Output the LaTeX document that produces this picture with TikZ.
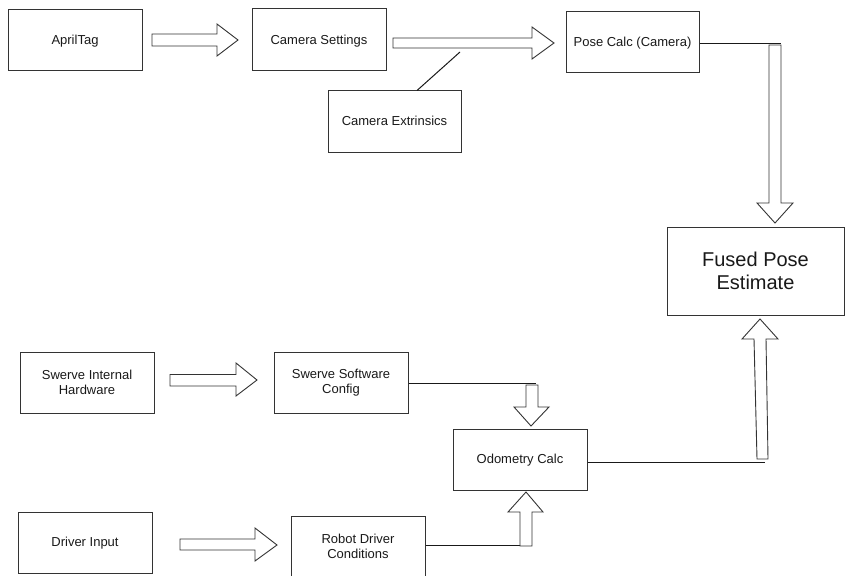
\documentclass[tikz,border=0pt]{standalone}
\usepackage{fontspec}
\setmainfont{Liberation Sans}
\begin{document}
\begin{tikzpicture}[x=1pt,y=-1pt,
  box/.style={draw=black!80,line width=1pt,rectangle,inner sep=0pt,minimum width=134pt,minimum height=61pt,align=center,font=\fontsize{13}{15}\selectfont,text=black!90},
  one/.style={text height=1.05em,text depth=0.2em},
  bigbox/.style={box,minimum width=177pt,minimum height=88pt,font=\fontsize{20}{22.5}\selectfont},
  barrow/.style={draw=black!80,line width=0.9pt,fill=white,line join=miter},
  conn/.style={draw=black!90,line width=1pt}]
\useasboundingbox (0,0) rectangle (845,575);
\clip (0,0) rectangle (845,575);
\node[box,one] (april) at (75,40) {AprilTag};
\node[box,one,minimum height=62pt] (camset) at (319,40) {Camera Settings};
\node[box,one,minimum width=133pt] (pose) at (632.5,42.5) {Pose Calc (Camera)};
\node[box,one,minimum width=133pt] (extr) at (394.5,121.5) {Camera Extrinsics};
\node[bigbox] (fused) at (755.5,271) {Fused Pose\\Estimate};
\node[box] (swhw) at (87,382.5) {Swerve Internal\\Hardware};
\node[box] (swsw) at (341,382.5) {Swerve Software\\Config};
\node[box,one] (odo) at (520,459.5) {Odometry Calc};
\node[box,one] (drv) at (85,542.5) {Driver Input};
\node[box] (rdc) at (358,546.5) {Robot Driver\\Conditions};
% horizontal block arrows
\draw[barrow] (152,34) -- (217,34) -- (217,24) -- (238,40) -- (217,56) -- (217,46) -- (152,46) -- cycle;
\draw[barrow] (393,38) -- (532,38) -- (532,27) -- (554,43) -- (532,59) -- (532,48) -- (393,48) -- cycle;
\draw[barrow] (170,374.5) -- (236,374.5) -- (236,363) -- (257,380) -- (236,396) -- (236,386) -- (170,386) -- cycle;
\draw[barrow] (180,539) -- (255,539) -- (255,528) -- (277,545) -- (255,561) -- (255,550) -- (180,550) -- cycle;
% camera extrinsics link
\coordinate (extrj) at (460,52);
\draw[conn] (extr.north) ++(22.5,0) coordinate (extrt) -- (extrj);
% pose calc to fused
\coordinate (pj) at (781,43.5);
\draw[conn] (pose.east |- pj) -- (pj);
\draw[barrow] (769,45) -- (781,45) -- (781,203) -- (793,203) -- (775,223) -- (757,203) -- (769,203) -- cycle;
% swerve software to odometry
\coordinate (sj) at (536,383);
\draw[conn] (swsw.east |- sj) -- (sj);
\draw[barrow] (526,385) -- (538,385) -- (538,407) -- (549,407) -- (531,426) -- (514,407) -- (526,407) -- cycle;
% robot driver to odometry
\coordinate (rj) at (520,545);
\draw[conn] (rdc.east |- rj) -- (rj);
\draw[barrow] (520,546) -- (532,546) -- (532,512) -- (543,512) -- (526,492) -- (508,512) -- (520,512) -- cycle;
% odometry to fused
\coordinate (oj) at (765,462);
\draw[conn] (odo.east |- oj) -- (oj);
\draw[barrow] (757,459) -- (768,459) -- (766,339) -- (778,339) -- (760,319) -- (742,339) -- (754,339) -- cycle;
\end{tikzpicture}
\end{document}
